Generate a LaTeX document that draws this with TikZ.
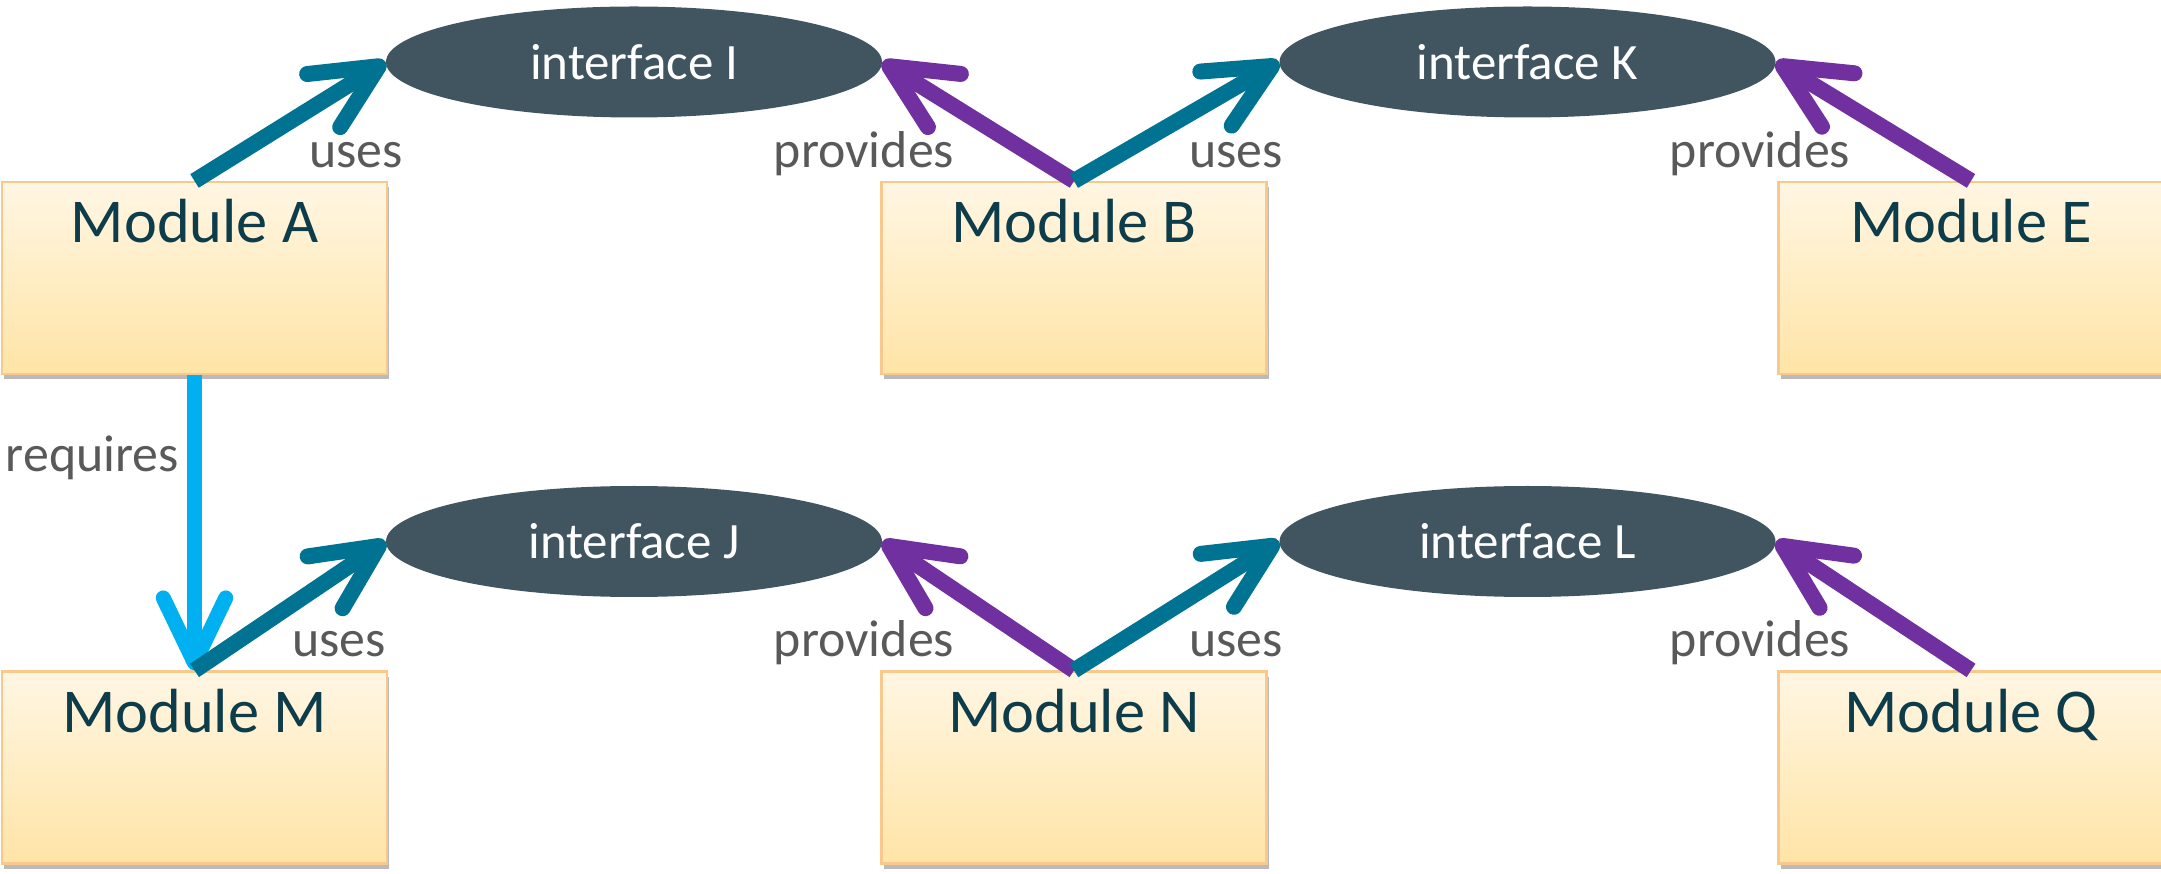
\documentclass[tikz,border=0pt]{standalone}
\usepackage{fontspec}
\setmainfont{Carlito}
\usetikzlibrary{arrows.meta,shapes.geometric,shadows}
\definecolor{boxtop}{HTML}{FFF6E3}
\definecolor{boxbot}{HTML}{FFE4A6}
\definecolor{boxline}{HTML}{F9C88C}
\definecolor{modtext}{HTML}{0D3C4B}
\definecolor{ifacefill}{HTML}{415560}
\definecolor{lblgray}{HTML}{595959}
\definecolor{usecol}{HTML}{007393}
\definecolor{provcol}{HTML}{7030A0}
\definecolor{reqcol}{HTML}{00B0F0}
\tikzstyle{module} = [draw=boxline, line width=1.2pt, top color=boxtop, bottom color=boxbot, minimum width=7.7cm, minimum height=3.84cm, inner ysep=0pt, text height=1.22cm, text depth=2.62cm, text=modtext, font=\fontsize{35.5}{40}\selectfont, drop shadow={shadow xshift=0.04cm, shadow yshift=-0.1cm, opacity=0.45, fill=black!60}]
\tikzstyle{iface} = [ellipse, fill=ifacefill, text=white, minimum width=9.92cm, minimum height=2.22cm, inner sep=0pt, font=\fontsize{29}{34}\selectfont]
\tikzstyle{lbl} = [text=lblgray, font=\fontsize{29.5}{35}\selectfont, anchor=base, inner sep=0pt]
\tikzstyle{link} = [-{Straight Barb[length=1.3cm,width=1.25cm,round]}, line width=0.32cm]

\begin{document}
\begin{tikzpicture}
    \useasboundingbox (0,0) rectangle (43.22,17.46);
    \draw (3.89,11.9) node[module] (A) {Module A};
    \draw (21.48,11.9) node[module] (B) {Module B};
    \draw (39.42,11.9) node[module] (E) {Module E};
    \draw (3.89,2.11) node[module] (M) {Module M};
    \draw (21.48,2.11) node[module] (N) {Module N};
    \draw (39.42,2.11) node[module] (Q) {Module Q};
    \draw (12.68,16.22) node[iface] (I) {interface I};
    \draw (30.55,16.22) node[iface] (K) {interface K};
    \draw (12.68,6.63) node[iface] (J) {interface J};
    \draw (30.55,6.63) node[iface] (L) {interface L};
    \draw [link, usecol] (A.north) -- (I.west);
    \draw [link, provcol] (B.north) -- (I.east);
    \draw [link, usecol] (B.north) -- (K.west);
    \draw [link, provcol] (E.north) -- (K.east);
    \draw [link, reqcol, line width=0.3cm] (A.south) -- (M.north);
    \draw [link, usecol] (M.north) -- (J.west);
    \draw [link, provcol] (N.north) -- (J.east);
    \draw [link, usecol] (N.north) -- (L.west);
    \draw [link, provcol] (Q.north) -- (L.east);
    \node[lbl] (uAI) at (7.12,14.1) {uses};
    \node[lbl] (pBI) at (17.28,14.1) {provides};
    \node[lbl] (uBK) at (24.72,14.1) {uses};
    \node[lbl] (pEK) at (35.2,14.1) {provides};
    \node[lbl] (rAM) at (1.85,8.02) {requires};
    \node[lbl] (uMJ) at (6.78,4.34) {uses};
    \node[lbl] (pNJ) at (17.28,4.34) {provides};
    \node[lbl] (uNL) at (24.72,4.34) {uses};
    \node[lbl] (pQL) at (35.2,4.34) {provides};
\end{tikzpicture}
\end{document}
